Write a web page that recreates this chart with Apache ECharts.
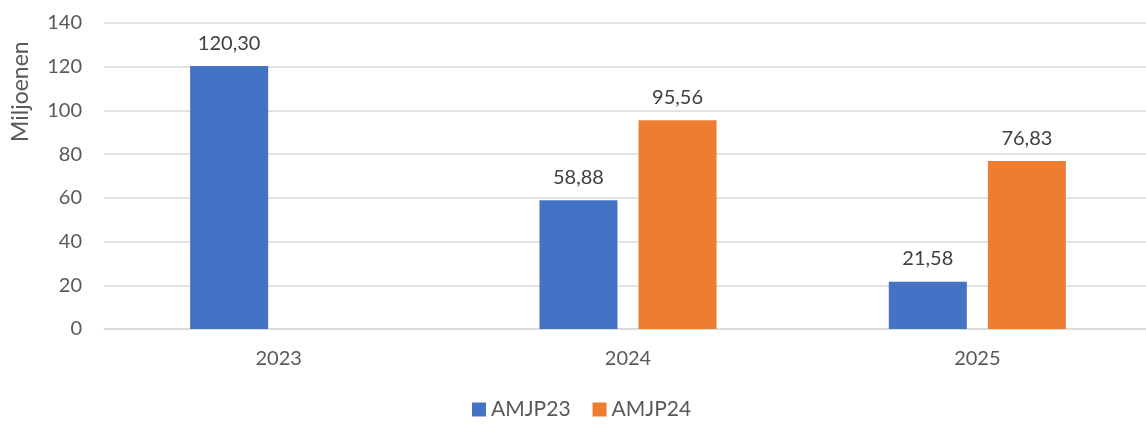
<!DOCTYPE html>
<html>
<head>
<meta charset="utf-8">
<script src="https://cdn.jsdelivr.net/npm/echarts@6/dist/echarts.min.js"></script>
<style>
  html, body { margin: 0; padding: 0; background: #fff; }
  #chart { width: 1146px; height: 424px; }
</style>
</head>
<body>
<div id="chart"></div>
<script>
var chart = echarts.init(document.getElementById('chart'));

var years = ['2023', '2024', '2025'];
var amjp23 = [120.30, 58.88, 21.58];
var amjp24 = [null, 95.56, 76.83];

function fmt(p) {
    return p.value == null ? '' : p.value.toFixed(2).replace('.', ',');
}

var option = {
    animation: false,
    textStyle: {
        fontFamily: 'Lato'
    },
    grid: {
        left: 104,
        width: 1048,
        top: 23,
        bottom: 95,
        outerBoundsMode: 'none'
    },
    graphic: [{
        type: 'text',
        x: 9,
        y: 142,
        rotation: Math.PI / 2,
        style: {
            text: 'Miljoenen',
            fill: '#595959',
            font: '23px Lato'
        }
    }],
    legend: {
        top: 399,
        left: 472,
        padding: 0,
        itemWidth: 14,
        itemHeight: 14,
        itemGap: 22,
        itemTextGap: 6,
        icon: 'rect',
        textStyle: {
            color: '#595959',
            fontSize: 21
        },
        data: ['AMJP23', 'AMJP24']
    },
    xAxis: {
        type: 'category',
        data: years,
        axisLine: {
            lineStyle: {
                color: '#d9d9d9',
                width: 1.5
            }
        },
        axisTick: { show: false },
        axisLabel: {
            color: '#595959',
            fontSize: 20,
            margin: 20
        }
    },
    yAxis: {
        type: 'value',
        min: 0,
        max: 140,
        interval: 20,
        axisLine: { show: false },
        axisTick: { show: false },
        axisLabel: {
            color: '#595959',
            fontSize: 20,
            margin: 22
        },
        splitLine: {
            lineStyle: {
                color: '#d9d9d9',
                width: 1.5
            }
        }
    },
    series: [
        {
            name: 'AMJP23',
            type: 'bar',
            data: amjp23,
            barWidth: 78,
            barGap: '27%',
            itemStyle: { color: '#4472c4' },
            label: {
                show: true,
                position: 'top',
                distance: 13,
                color: '#404040',
                fontSize: 20,
                formatter: fmt
            }
        },
        {
            name: 'AMJP24',
            type: 'bar',
            data: amjp24,
            barWidth: 78,
            barGap: '27%',
            itemStyle: { color: '#ed7d31' },
            label: {
                show: true,
                position: 'top',
                distance: 13,
                color: '#404040',
                fontSize: 20,
                formatter: fmt
            }
        }
    ]
};

chart.setOption(option);
</script>
</body>
</html>
